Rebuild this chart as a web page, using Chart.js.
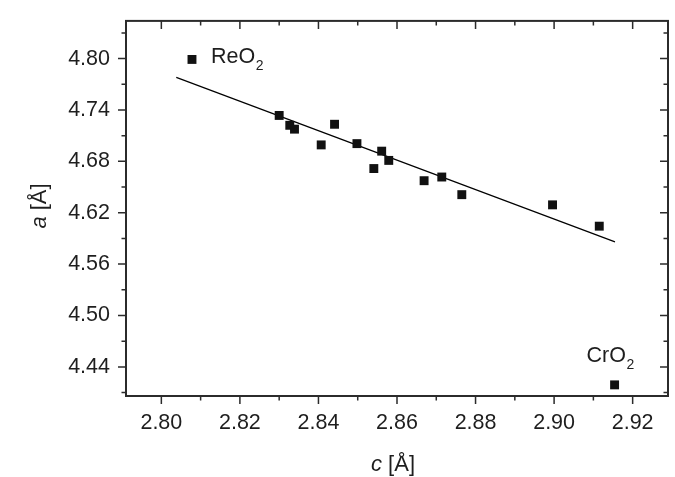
<!DOCTYPE html>
<html>
<head>
<meta charset="utf-8">
<script src="https://cdn.jsdelivr.net/npm/chart.js@4/dist/chart.umd.min.js"></script>
<style>
  body { margin: 0; background: #fff; }
  #wrap { width: 675px; height: 477px; }
</style>
</head>
<body>
<div id="wrap"><canvas id="latticeChart" width="675" height="477"></canvas></div>
<script>
// lattice parameters
const cValues = [2.8078, 2.8300, 2.8327, 2.8339, 2.8407, 2.8441, 2.8498, 2.8541, 2.8561, 2.8579, 2.8669, 2.8714, 2.8765, 2.8996, 2.9115, 2.9154];
const aValues = [4.799, 4.7336, 4.7221, 4.7176, 4.6992, 4.7233, 4.7007, 4.6716, 4.6919, 4.6811, 4.6574, 4.6617, 4.6411, 4.6292, 4.6043, 4.419];
const compoundNames = ['ReO', '', '', '', '', '', '', '', '', '', '', '', '', '', '', 'CrO'];
const fitC = [2.8038, 2.9155];
const fitA = [4.778, 4.586];

const xMajorTicks = [2.80, 2.82, 2.84, 2.86, 2.88, 2.90, 2.92];
const xMinorTicks = [2.79, 2.81, 2.83, 2.85, 2.87, 2.89, 2.91, 2.93];
const yMajorTicks = [4.44, 4.50, 4.56, 4.62, 4.68, 4.74, 4.80];
const yMinorTicks = [4.41, 4.47, 4.53, 4.59, 4.65, 4.71, 4.77, 4.83];

const FONT = '"Liberation Sans", Arial, sans-serif';
const TEXT = '#1e1e1e';
const AXIS = '#2b2b2b';

const framePlugin = {
    id: 'frame',
    afterDraw(chart) {
        const ctx = chart.ctx;
        const area = chart.chartArea;
        const xs = chart.scales.x, ys = chart.scales.y;
        ctx.save();
        ctx.strokeStyle = AXIS;
        ctx.lineWidth = 2;
        ctx.strokeRect(area.left, area.top, area.right - area.left, area.bottom - area.top);

        ctx.lineWidth = 1.5;
        const xTick = (v, len) => {
            const px = xs.getPixelForValue(v);
            if (px < area.left || px > area.right) return;
            ctx.beginPath();
            ctx.moveTo(px, area.bottom); ctx.lineTo(px, area.bottom + len);
            ctx.moveTo(px, area.top); ctx.lineTo(px, area.top + len);
            ctx.stroke();
        };
        const yTick = (v, len) => {
            const py = ys.getPixelForValue(v);
            if (py < area.top || py > area.bottom) return;
            ctx.beginPath();
            ctx.moveTo(area.left, py); ctx.lineTo(area.left - len, py);
            ctx.moveTo(area.right, py); ctx.lineTo(area.right - len, py);
            ctx.stroke();
        };
        xMajorTicks.forEach(v => xTick(v, 8));
        xMinorTicks.forEach(v => xTick(v, 4.5));
        yMajorTicks.forEach(v => yTick(v, 8));
        yMinorTicks.forEach(v => yTick(v, 4.5));

        // axis titles
        ctx.fillStyle = TEXT;
        ctx.textBaseline = 'alphabetic';
        ctx.textAlign = 'left';
        const drawTitle = (italicPart, rest, cx, cy, rot) => {
            ctx.save();
            ctx.translate(cx, cy);
            ctx.rotate(rot);
            ctx.font = 'italic 22px ' + FONT;
            const w1 = ctx.measureText(italicPart).width;
            ctx.font = '22px ' + FONT;
            const w2 = ctx.measureText(rest).width;
            const start = -(w1 + w2) / 2;
            ctx.font = 'italic 22px ' + FONT;
            ctx.fillText(italicPart, start, 0);
            ctx.font = '22px ' + FONT;
            ctx.fillText(rest, start + w1, 0);
            ctx.restore();
        };
        drawTitle('c', ' [Å]', 393, 471, 0);
        drawTitle('a', ' [Å]', 46, 206, -Math.PI / 2);

        // compound labels with subscript
        const drawName = (name, x, y) => {
            ctx.font = '21.5px ' + FONT;
            ctx.fillText(name, x, y);
            const w = ctx.measureText(name).width;
            ctx.font = '14px ' + FONT;
            ctx.fillText('2', x + w + 0.5, y + 7);
        };
        compoundNames.forEach((name, i) => {
            if (!name) return;
            const px = xs.getPixelForValue(cValues[i]);
            const py = ys.getPixelForValue(aValues[i]);
            if (i === 0) drawName(name, px + 19, py + 4);
            else drawName(name, px - 28, py - 23);
        });
        ctx.restore();
    }
};

new Chart(document.getElementById('latticeChart').getContext('2d'), {
    data: {
        datasets: [
            {
                type: 'scatter',
                data: cValues.map((c, i) => ({ x: c, y: aValues[i] })),
                pointStyle: 'rect',
                pointRadius: 6.3,
                backgroundColor: '#111',
                borderColor: '#111',
                borderWidth: 0
            },
            {
                type: 'line',
                data: fitC.map((c, i) => ({ x: c, y: fitA[i] })),
                borderColor: '#000',
                borderWidth: 1.2,
                pointRadius: 0,
                fill: false
            }
        ]
    },
    options: {
        responsive: false,
        animation: false,
        devicePixelRatio: 1,
        layout: { padding: { top: 13, right: 7, left: 0, bottom: 0 } },
        plugins: { legend: { display: false }, tooltip: { enabled: false } },
        scales: {
            x: {
                type: 'linear',
                min: 2.791,
                max: 2.929,
                afterFit: s => { s.height = 81; },
                afterBuildTicks: s => { s.ticks = xMajorTicks.map(v => ({ value: v })); },
                grid: { drawOnChartArea: false, tickLength: 8, tickColor: 'transparent' },
                border: { display: false },
                ticks: {
                    padding: 6,
                    maxRotation: 0,
                    color: TEXT,
                    font: { family: FONT, size: 21.5 },
                    callback: v => v.toFixed(2)
                }
            },
            y: {
                type: 'linear',
                min: 4.406,
                max: 4.844,
                afterFit: s => { s.width = 126; },
                afterBuildTicks: s => { s.ticks = yMajorTicks.map(v => ({ value: v })); },
                grid: { drawOnChartArea: false, tickLength: 8, tickColor: 'transparent' },
                border: { display: false },
                ticks: {
                    padding: 8,
                    color: TEXT,
                    font: { family: FONT, size: 21.5 },
                    callback: v => v.toFixed(2)
                }
            }
        }
    },
    plugins: [framePlugin]
});
</script>
</body>
</html>
